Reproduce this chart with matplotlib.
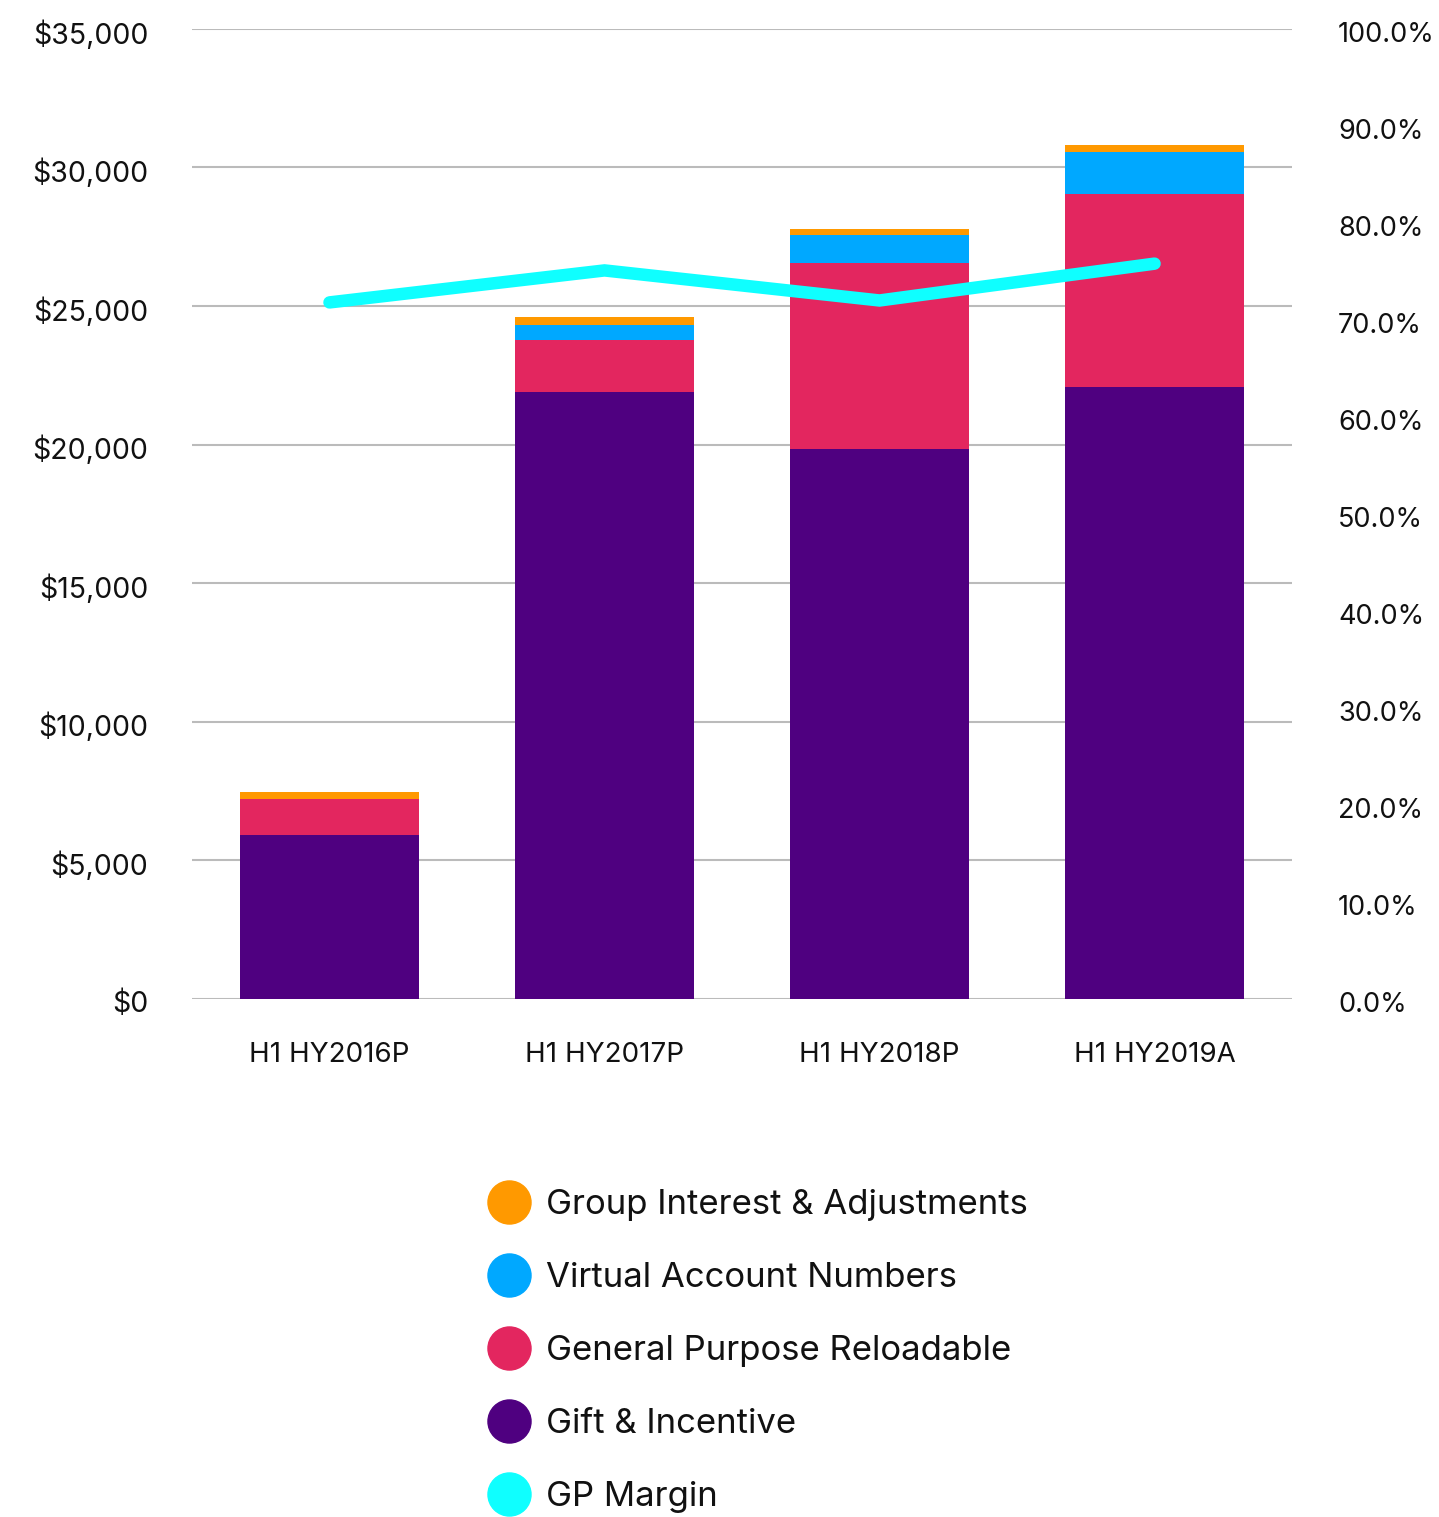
import matplotlib
matplotlib.use("Agg")
import matplotlib.pyplot as plt
import matplotlib.transforms as mtransforms
from matplotlib.lines import Line2D
import numpy as np

plt.rcParams['font.family'] = ['Inter', 'DejaVu Sans']

categories = ["H1 HY2016P", "H1 HY2017P", "H1 HY2018P", "H1 HY2019A"]
gift = [5908, 21896, 19839, 22077]
gpr = [1299, 1877, 6712, 6975]
van = [0, 541, 1011, 1506]
group = [253, 289, 217, 252]
gp_margin = [71.8, 75.1, 72.0, 75.8]

left_ticks = [0, 5000, 10000, 15000, 20000, 25000, 30000, 35000]
right_ticks = [0, 10, 20, 30, 40, 50, 60, 70, 80, 90, 100]

c_gift = "#4F0080"
c_gpr = "#E3265F"
c_van = "#00A8FF"
c_group = "#FF9900"
c_gp = "#0FFFFF"

fig = plt.figure(figsize=(14.39, 15.17), dpi=100)
ax = fig.add_axes([0.1334, 0.3417, 0.7645, 0.6392])
ax2 = ax.twinx()

x = np.arange(len(categories))
w = 0.65
b1 = np.array(gift, float)
b2 = b1 + np.array(gpr, float)
b3 = b2 + np.array(van, float)
ax.bar(x, gift, w, color=c_gift, zorder=2)
ax.bar(x, gpr, w, bottom=b1, color=c_gpr, zorder=2)
ax.bar(x, van, w, bottom=b2, color=c_van, zorder=2)
ax.bar(x, group, w, bottom=b3, color=c_group, zorder=2)

ax.set_xlim(-0.5, len(categories) - 0.5)
ax.set_ylim(0, 35000)
ax.set_yticks(left_ticks)
ax.set_yticklabels(["${:,}".format(v) for v in left_ticks])
ax.set_xticks(x)
ax.set_xticklabels(categories)
ax.grid(axis='y', color='#BBBBBB', linewidth=1.5, zorder=0)
ax.set_axisbelow(True)
for s in ax.spines.values():
    s.set_visible(False)
for s in ax2.spines.values():
    s.set_visible(False)
ax.tick_params(axis='y', length=0, pad=31.5, labelsize=20.5, labelcolor='#111111')
ax.tick_params(axis='x', length=0, pad=31, labelsize=20, labelcolor='#111111')

ax2.plot(x, gp_margin, color=c_gp, linewidth=9, solid_capstyle='round', solid_joinstyle='miter', zorder=5)
ax2.set_ylim(0, 100)
ax2.set_yticks(right_ticks)
ax2.set_yticklabels(["{:.1f}%".format(v) for v in right_ticks])
ax2.tick_params(axis='y', length=0, pad=33, labelsize=19.5, labelcolor='#111111')
ax2.set_zorder(ax.get_zorder() + 1)
ax2.patch.set_visible(False)

shift = mtransforms.ScaledTranslation(0, -3 / 100, fig.dpi_scale_trans)
for lbl in ax.get_yticklabels() + ax2.get_yticklabels():
    lbl.set_transform(lbl.get_transform() + shift)

labels = ["Group Interest & Adjustments", "Virtual Account Numbers",
          "General Purpose Reloadable", "Gift & Incentive", "GP Margin"]
colors = [c_group, c_van, c_gpr, c_gift, c_gp]
handles = [Line2D([], [], linestyle='none', marker='o', markersize=31,
                  markerfacecolor=c, markeredgecolor=c) for c in colors]
fig.legend(handles, labels, loc='upper left', bbox_to_anchor=(0.326, 0.2275),
           frameon=False, fontsize=25, labelspacing=1.18, handletextpad=0.4,
           handlelength=1.3, borderpad=0, labelcolor='#111111')

fig.savefig("out.png", dpi=100)
